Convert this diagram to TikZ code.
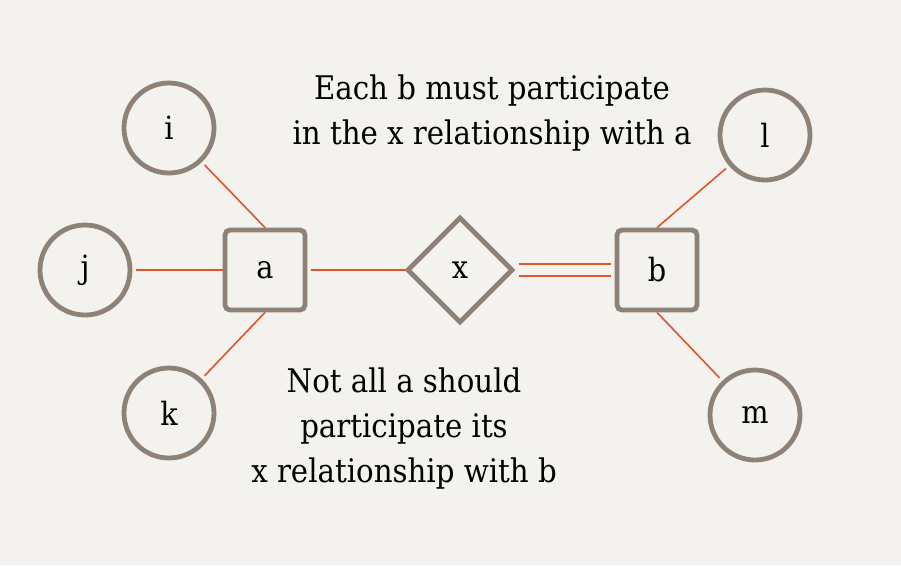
\documentclass[tikz,border=0pt]{standalone}
\usepackage{fontspec}
\setmainfont{DejaVu Serif Condensed}
\usetikzlibrary{shapes.geometric}
\definecolor{bg}{HTML}{F4F2EE}
\definecolor{shp}{HTML}{8E8278}
\definecolor{lnk}{HTML}{E0542A}
\begin{document}
\begin{tikzpicture}[x=1pt,y=-1pt,
  attr/.style={circle,draw=shp,line width=4.8pt,minimum size=90pt,inner sep=0pt,font=\fontsize{32}{34}\selectfont},
  ent/.style={rectangle,rounded corners=5pt,draw=shp,line width=4.8pt,minimum size=80pt,inner sep=0pt,font=\fontsize{32}{34}\selectfont},
  rel/.style={diamond,draw=shp,line width=4.8pt,minimum size=106pt,inner sep=0pt,font=\fontsize{32}{34}\selectfont},
  link/.style={draw=lnk,line width=1.6pt},
  note/.style={align=center,font=\fontsize{32.5}{45}\selectfont}]
\fill[bg] (0,0) rectangle (901,565);
\useasboundingbox (0,0) rectangle (901,565);
\node[attr] (i) at (169,128) {i};
\node[attr] (j) at (85,270) {j};
\node[attr] (k) at (169,413) {k};
\node[attr] (l) at (765,135) {l};
\node[attr] (m) at (755,415) {m};
\node[ent] (a) at (265,270) {a};
\node[ent] (b) at (657,270) {b};
\node[rel] (x) at (460,270) {x};
\draw[link,shorten <=4pt] (i) -- (a.north);
\draw[link,shorten <=4pt] (k) -- (a.south);
\draw[link,shorten <=4pt] (l) -- (b.north);
\draw[link,shorten <=4pt] (m) -- (b.south);
\draw[link,shorten <=4pt] (j) -- (a);
\draw[link,shorten <=4pt] (a) -- (x);
\draw[link,shorten <=4pt,shorten >=4pt] ([yshift=-6pt]x.east) -- ([yshift=-6pt]b.west);
\draw[link,shorten <=4pt,shorten >=4pt] ([yshift=6pt]x.east) -- ([yshift=6pt]b.west);
\node[note] (t1) at (492,113) {Each b must participate\\in the x relationship with a};
\node[note] (t2) at (404,429) {Not all a should\\participate its\\x relationship with b};
\end{tikzpicture}
\end{document}
